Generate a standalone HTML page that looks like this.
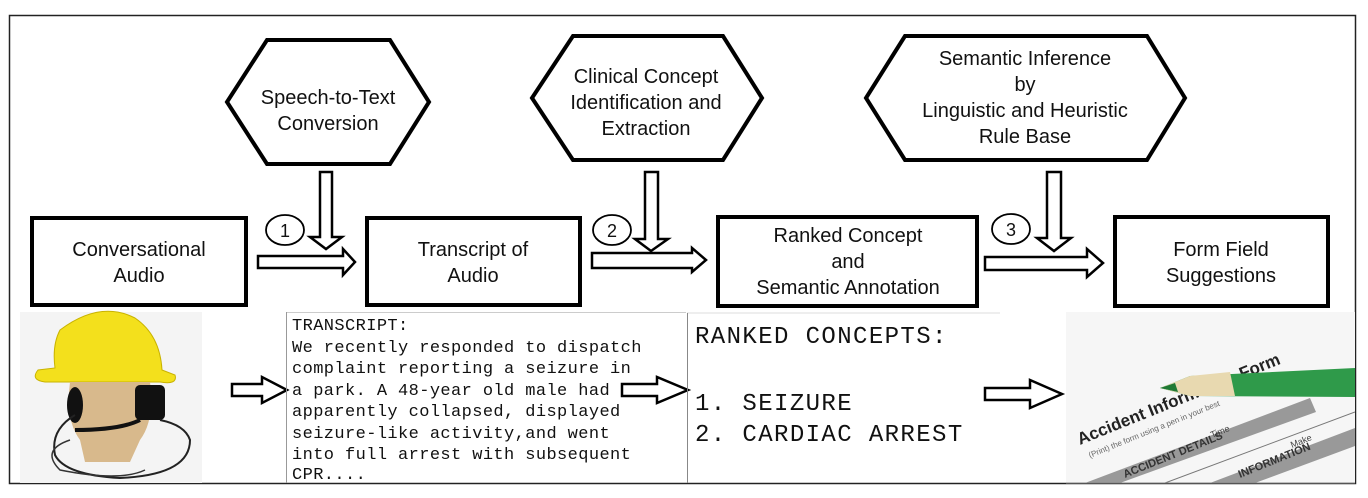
<!DOCTYPE html>
<html><head><meta charset="utf-8"><style>
html,body{margin:0;padding:0;background:#fff;overflow:hidden;width:1368px;height:498px;}
svg{display:block;}
.s{font-family:"Liberation Sans",sans-serif;font-size:20px;fill:#111;text-anchor:middle;}
.m{font-family:"Liberation Mono",monospace;fill:#111;}
</style></head><body>
<svg width="1368" height="498" viewBox="0 0 1368 498" xmlns="http://www.w3.org/2000/svg">
<defs><clipPath id="fc"><rect x="1066" y="312" width="289" height="171"/></clipPath></defs>
<rect x="0" y="0" width="1368" height="498" fill="#fff"/>
<rect x="9.5" y="15.5" width="1346" height="468" fill="none" stroke="#222" stroke-width="1.5"/>

<polygon points="227,102 267,40 390,40 429,102 390,164 267,164" fill="#fff" stroke="#000" stroke-width="4"/>
<text class="s" x="328" y="104">Speech-to-Text</text>
<text class="s" x="328" y="130">Conversion</text>

<polygon points="532,98 573,36 723,36 762,98 723,160 573,160" fill="#fff" stroke="#000" stroke-width="4"/>
<text class="s" x="646" y="83">Clinical Concept</text>
<text class="s" x="646" y="109">Identification and</text>
<text class="s" x="646" y="135">Extraction</text>

<polygon points="866,98 905,36 1147,36 1185,98 1147,160 905,160" fill="#fff" stroke="#000" stroke-width="4"/>
<text class="s" x="1025" y="65">Semantic Inference</text>
<text class="s" x="1025" y="91">by</text>
<text class="s" x="1025" y="117">Linguistic and Heuristic</text>
<text class="s" x="1025" y="143">Rule Base</text>

<rect x="32" y="218" width="214" height="87" fill="#fff" stroke="#000" stroke-width="4"/>
<text class="s" x="139" y="256">Conversational</text>
<text class="s" x="139" y="282">Audio</text>
<rect x="367" y="218" width="213" height="87" fill="#fff" stroke="#000" stroke-width="4"/>
<text class="s" x="473" y="256">Transcript of</text>
<text class="s" x="473" y="282">Audio</text>
<rect x="718" y="217" width="259" height="89" fill="#fff" stroke="#000" stroke-width="4"/>
<text class="s" x="848" y="242">Ranked Concept</text>
<text class="s" x="848" y="268">and</text>
<text class="s" x="848" y="294">Semantic Annotation</text>
<rect x="1115" y="217" width="213" height="89" fill="#fff" stroke="#000" stroke-width="4"/>
<text class="s" x="1221" y="256">Form Field</text>
<text class="s" x="1221" y="282">Suggestions</text>

<g fill="#fff" stroke="#000" stroke-width="2.5" stroke-linejoin="miter">
<polygon points="320,172 332,172 332,237 342,237 326,249 310,237 320,237"/>
<polygon points="645,172 658,172 658,239 668,239 651,251 635,239 645,239"/>
<polygon points="1047,172 1061,172 1061,238 1071,238 1054,251 1037,238 1047,238"/>
<polygon points="258,256 343,256 343,249 355,262 343,275 343,268 258,268"/>
<polygon points="592,253 692,253 692,248 706,260 692,272 692,268 592,268"/>
<polygon points="985,257 1087,257 1087,249 1103,263 1087,277 1087,270 985,270"/>
<polygon points="232,384 262,384 262,377 287,390 262,403 262,396 232,396"/>
<polygon points="622,384 657,384 657,377 688,390 657,403 657,396 622,396"/>
<polygon points="985,388 1030,388 1030,380 1062,394 1030,408 1030,400 985,400"/>
</g>
<g fill="#fff" stroke="#000" stroke-width="1.8">
<ellipse cx="285" cy="230" rx="19" ry="15"/>
<ellipse cx="612" cy="230" rx="19" ry="15"/>
<ellipse cx="1011" cy="229" rx="19" ry="15"/>
</g>
<g class="s" style="font-size:18px">
<text x="285" y="237">1</text><text x="612" y="237">2</text><text x="1011" y="236">3</text>
</g>

<rect x="20" y="312" width="182" height="171" fill="#f4f4f4"/>
<path d="M60,330 Q100,300 135,318 Q160,335 162,370 L175,375 Q178,385 160,382 L45,382 Q30,380 38,370 L55,368 Q52,345 60,330Z" fill="#f3e01c" stroke="#c9b300" stroke-width="1"/>
<path d="M70,382 L150,382 Q155,420 140,440 L130,462 L85,462 L80,440 Q65,420 70,382Z" fill="#d8b98c"/>
<ellipse cx="75" cy="405" rx="8" ry="18" fill="#111"/>
<rect x="135" y="385" width="30" height="35" rx="5" fill="#111"/>
<path d="M140,420 Q120,430 75,430" stroke="#111" stroke-width="4" fill="none"/>
<path d="M75,415 Q50,430 55,455 Q65,475 120,478 Q190,475 190,440 Q185,425 160,420" stroke="#222" stroke-width="2" fill="none"/>
<path d="M70,440 Q40,450 60,470 Q120,482 145,470" stroke="#333" stroke-width="1.5" fill="none"/>

<line x1="286" y1="312.5" x2="686" y2="312.5" stroke="#ccc" stroke-width="1"/>
<line x1="286.5" y1="312" x2="286.5" y2="483" stroke="#999" stroke-width="1"/>
<g class="m" style="font-size:17px;letter-spacing:0.4px">
<text x="292" y="330">TRANSCRIPT:</text>
<text x="292" y="352">We recently responded to dispatch</text>
<text x="292" y="373">complaint reporting a seizure in</text>
<text x="292" y="395">a park. A 48-year old male had</text>
<text x="292" y="416">apparently collapsed, displayed</text>
<text x="292" y="438">seizure-like activity,and went</text>
<text x="292" y="459">into full arrest with subsequent</text>
<text x="292" y="479">CPR....</text>
</g>

<line x1="687" y1="313" x2="1000" y2="313" stroke="#ddd" stroke-width="1"/>
<line x1="687.5" y1="313" x2="687.5" y2="483" stroke="#888" stroke-width="1"/>
<g class="m" style="font-size:24px;letter-spacing:1.4px">
<text x="695" y="343">RANKED CONCEPTS:</text>
<text x="695" y="410">1. SEIZURE</text>
<text x="695" y="441">2. CARDIAC ARREST</text>
</g>

<g clip-path="url(#fc)">
<rect x="1066" y="312" width="289" height="171" fill="#f6f6f6"/>
<polygon points="1085,483 1310,398 1316,412 1120,483" fill="#999"/>
<polygon points="1210,483 1355,428 1355,446 1255,483" fill="#999"/>
<polyline points="1165,483 1355,412" stroke="#777" stroke-width="1" fill="none"/>
<text transform="translate(1080,445) rotate(-22)" style="font-family:'Liberation Sans',sans-serif;font-weight:bold;font-size:17px;fill:#222">Accident Information Form</text>
<text transform="translate(1090,458) rotate(-22)" style="font-family:'Liberation Sans',sans-serif;font-size:8px;fill:#666">(Print) the form using a pen in your best</text>
<text transform="translate(1125,478) rotate(-22)" style="font-family:'Liberation Sans',sans-serif;font-weight:bold;font-size:11px;fill:#333">ACCIDENT DETAILS</text>
<text transform="translate(1240,478) rotate(-22)" style="font-family:'Liberation Sans',sans-serif;font-weight:bold;font-size:11px;fill:#333">INFORMATION</text>
<text transform="translate(1212,438) rotate(-22)" style="font-family:'Liberation Sans',sans-serif;font-size:9px;fill:#444">Time</text>
<text transform="translate(1292,448) rotate(-22)" style="font-family:'Liberation Sans',sans-serif;font-size:9px;fill:#444">Make</text>
<polygon points="1160,388 1190,376 1355,368 1355,397 1190,396" fill="#2f9a4a"/>
<polygon points="1160,388 1190,376 1230,372 1235,396 1190,396" fill="#e8d9b0"/>
<polygon points="1160,388 1175,383 1178,392" fill="#1f7a35"/>
</g>
<line x1="1066" y1="483" x2="1355" y2="483" stroke="#888"/>
</svg>
</body></html>
